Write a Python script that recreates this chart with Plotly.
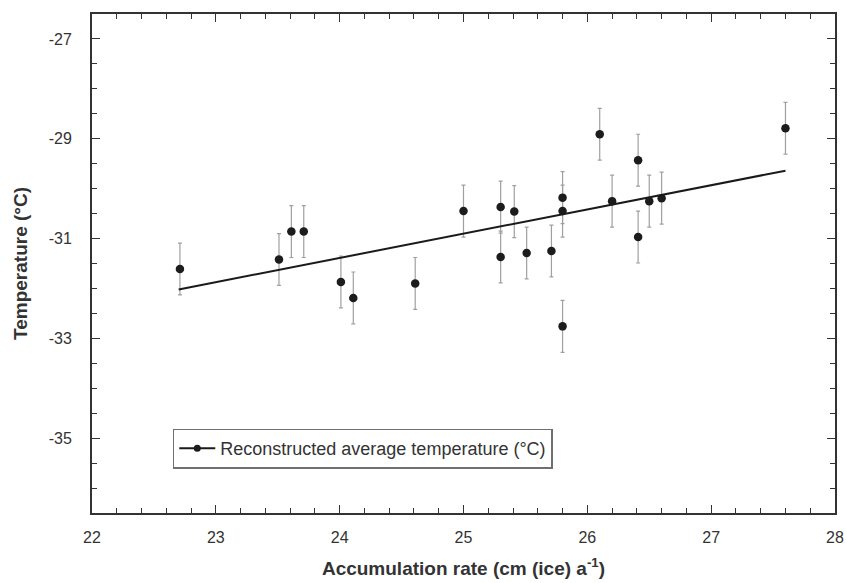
import plotly.graph_objects as go

# Data
accumulation = [22.71, 23.51, 23.61, 23.71, 24.01, 24.11, 24.61, 25.00, 25.30, 25.30,
                25.41, 25.51, 25.71, 25.80, 25.80, 25.80, 26.10, 26.20, 26.41, 26.41,
                26.50, 26.60, 27.60]
temperature = [-31.61, -31.42, -30.86, -30.86, -31.87, -32.19, -31.90, -30.45, -30.37, -31.37,
               -30.46, -31.29, -31.25, -30.18, -30.45, -32.76, -28.91, -30.25, -29.43, -30.97,
               -30.25, -30.19, -28.79]
temp_error = [0.52] * len(temperature)

trend_x = [22.70, 27.60]
trend_y = [-32.02, -29.64]

x_ticks = [22, 23, 24, 25, 26, 27, 28]
y_ticks = [-27, -29, -31, -33, -35]

legend_name = "Reconstructed average temperature (°C)"

FONT = "Liberation Sans, Arial, Helvetica, sans-serif"
AX = "#333333"
MARK = "#1c1c1c"

fig = go.Figure()

fig.add_trace(go.Scatter(
    x=accumulation, y=temperature, mode="markers",
    marker=dict(color=MARK, size=8.5),
    error_y=dict(type="data", array=temp_error, visible=True,
                 color="#a0a0a0", thickness=1.2, width=2),
    showlegend=False, hoverinfo="x+y",
))

fig.add_trace(go.Scatter(
    x=trend_x, y=trend_y, mode="lines",
    line=dict(color="#1a1a1a", width=2),
    showlegend=False,
))

# legend-only entry (line + marker symbol)
fig.add_trace(go.Scatter(
    x=[None], y=[None], mode="lines+markers", name=legend_name,
    line=dict(color="#1a1a1a", width=2),
    marker=dict(color=MARK, size=7),
))

axis_common = dict(
    showgrid=False, zeroline=False, automargin=False,
    showline=True, linecolor=AX, linewidth=2, mirror="allticks",
    ticks="inside", ticklen=8, tickwidth=1.2, tickcolor=AX,
    tickfont=dict(family=FONT, size=16, color=AX),
)

fig.update_xaxes(
    range=[22, 28], tickvals=x_ticks, ticktext=[str(v) for v in x_ticks],
    minor=dict(dtick=0.2, ticks="inside", ticklen=5, tickwidth=1, tickcolor=AX, showgrid=False),
    ticklabelstandoff=9,
    title=dict(text="<b>Accumulation rate (cm (ice) a<sup>-1</sup>)</b>",
               font=dict(family=FONT, size=19, color=AX), standoff=16),
    **axis_common,
)
fig.update_yaxes(
    range=[-36.5, -26.5], tickvals=y_ticks, ticktext=[str(v) for v in y_ticks],
    minor=dict(dtick=0.5, ticks="inside", ticklen=5, tickwidth=1, tickcolor=AX, showgrid=False),
    ticklabelstandoff=15,
    title=dict(text="<b>Temperature (°C)</b>",
               font=dict(family=FONT, size=19, color=AX), standoff=16),
    **axis_common,
)

fig.update_layout(
    width=846, height=583,
    margin=dict(l=92, r=11, t=14, b=70, pad=0),
    paper_bgcolor="white", plot_bgcolor="white",
    font=dict(family=FONT, color=AX),
    legend=dict(
        x=0.1087, y=0.169, xanchor="left", yanchor="top",
        bgcolor="white", bordercolor="#707070", borderwidth=1.5,
        font=dict(family=FONT, size=18, color=AX),
        itemwidth=36, tracegroupgap=0,
    ),
)

fig.write_html("out.html")
